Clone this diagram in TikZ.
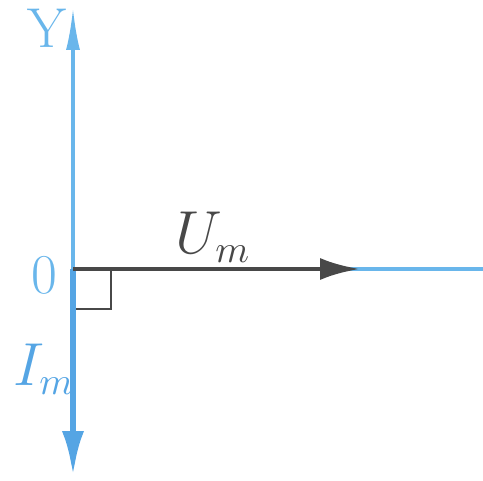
\documentclass[tikz,border=0pt]{standalone}
\usetikzlibrary{arrows.meta}
\definecolor{axisblue}{RGB}{105,182,235}
\definecolor{curblue}{RGB}{85,165,228}
\definecolor{voltgray}{RGB}{72,72,72}

\begin{document}
\begin{tikzpicture}[
    axis/.style={color=axisblue, line width=0.9pt},
    lbl/.style={font=\fontsize{16}{18}\selectfont, inner sep=0pt}
  ]
    \useasboundingbox (0,0) rectangle (4.83,4.80);

    \coordinate (O)    at (0.73,2.11);
    \coordinate (Ytip) at (0.73,4.72);
    \coordinate (Xend) at (4.83,2.11);
    \coordinate (Utip) at (3.60,2.11);
    \coordinate (Itip) at (0.73,0.04);
    \coordinate (Sq)   at (1.11,1.71);

    % axes
    \draw[axis, -{Latex[length=4.2mm,width=1.4mm]}] (O) -- (Ytip);
    \draw[axis] (O) -- (Xend);
    \node[lbl, text=axisblue] (ylab) at (0.47,4.52) {Y};
    \node[lbl, text=axisblue] (olab) at (0.44,2.05) {0};

    % right angle mark
    \draw[color=voltgray, line width=0.4pt] (O -| Sq) -- (Sq) -- (Sq -| O);

    % phasors
    \draw[color=curblue, line width=1.8pt, -{Latex[length=4.5mm,width=2.2mm]}] (O) -- (Itip);
    \draw[color=voltgray, line width=1.4pt, -{Latex[length=4mm,width=2.2mm]}] (O) -- (Utip);
    \node[lbl, text=voltgray] (ulab) at (2.13,2.43) {$U_m$};
    \node[lbl, text=curblue] (ilab) at (0.44,1.11) {$I_m$};
\end{tikzpicture}
\end{document}
